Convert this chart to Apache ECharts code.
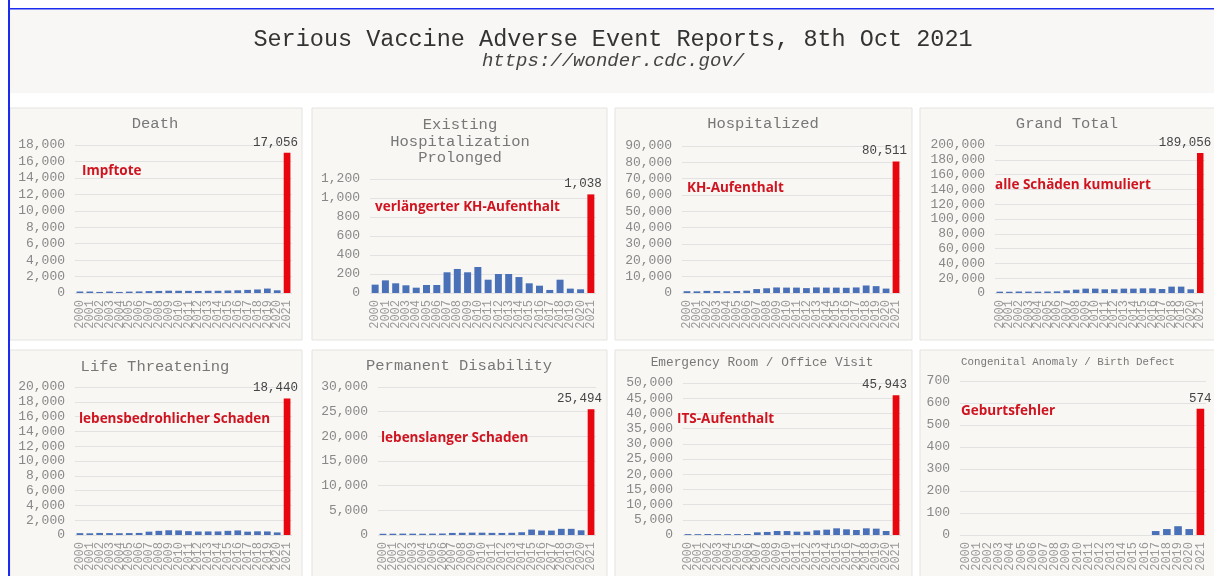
<!DOCTYPE html>
<html>
<head>
<meta charset="utf-8">
<script src="https://cdn.jsdelivr.net/npm/echarts@6/dist/echarts.min.js"></script>
<style>
  html, body { margin: 0; padding: 0; background: #fff; }
  #chart { width: 1214px; height: 576px; }
</style>
</head>
<body>
<div id="chart"></div>
<script>
const years = ['2000', '2001', '2002', '2003', '2004', '2005', '2006', '2007', '2008', '2009', '2010',
  '2011', '2012', '2013', '2014', '2015', '2016', '2017', '2018', '2019', '2020', '2021']

const death = [180, 180, 130, 180, 130, 170, 190, 230, 250, 280, 270, 260, 250, 270, 270, 300, 330, 380, 430, 540, 330, 17056]
const prolonged = [88, 133, 102, 81, 56, 84, 84, 218, 253, 218, 274, 140, 200, 200, 168, 102, 77, 32, 140, 46, 39, 1038]
const hospitalized = [1100, 1000, 1300, 1200, 1100, 1200, 1400, 2400, 2900, 3400, 3300, 3300, 3000, 3400, 3300, 3300, 3200, 3400, 4600, 4200, 2700, 80511]
const grandTotal = [1800, 1700, 2000, 1900, 1800, 2000, 2200, 3600, 4500, 5900, 5900, 5000, 5000, 5900, 5900, 6300, 6300, 5400, 8600, 8600, 5000, 189056]
const lifeThreat = [250, 230, 280, 260, 240, 260, 280, 450, 560, 640, 620, 520, 470, 480, 480, 560, 620, 450, 500, 480, 350, 18440]
const disability = [250, 260, 280, 270, 260, 280, 300, 420, 450, 480, 470, 430, 420, 450, 560, 1100, 900, 900, 1250, 1250, 950, 25494]
const emergency = [300, 280, 320, 300, 290, 310, 330, 880, 1000, 1320, 1300, 1100, 1100, 1540, 1760, 2200, 1870, 1650, 2200, 2090, 1320, 45943]
const birthDefect = [0, 0, 0, 0, 0, 0, 0, 0, 0, 0, 0, 0, 0, 0, 0, 0, 0, 18, 27, 40, 27, 574]

const blue = '#4a70b8'
const red = '#e8070f'
const noteRed = '#cf1420'
const mono = '"Liberation Mono", "DejaVu Sans Mono", monospace'

const panels = [
  { box: [10, 108, 292, 232], titles: ['Death'], tx: 155, ty: 124, ts: 15.5,
    note: 'Impftote', nx: 82, ny: 171,
    grid: { left: 75, top: 145, width: 217, height: 148 }, max: 18000, interval: 2000, data: death },
  { box: [312, 108, 295, 232], titles: ['Existing', 'Hospitalization', 'Prolonged'], tx: 460, ty: 125, ts: 15.5,
    note: 'verlängerter KH-Aufenthalt', nx: 375, ny: 207,
    grid: { left: 370, top: 179, width: 226, height: 114 }, max: 1200, interval: 200, data: prolonged },
  { box: [615, 108, 297, 232], titles: ['Hospitalized'], tx: 763, ty: 124, ts: 15.5,
    note: 'KH-Aufenthalt', nx: 687, ny: 188,
    grid: { left: 682, top: 146, width: 219, height: 147 }, max: 90000, interval: 10000, data: hospitalized },
  { box: [920, 108, 300, 232], titles: ['Grand Total'], tx: 1067, ty: 124, ts: 15.5,
    note: 'alle Schäden kumuliert', nx: 995, ny: 185,
    grid: { left: 995, top: 145, width: 210, height: 148 }, max: 200000, interval: 20000, data: grandTotal },
  { box: [10, 350, 292, 240], titles: ['Life Threatening'], tx: 155, ty: 367, ts: 15.5,
    note: 'lebensbedrohlicher Schaden', nx: 79, ny: 419,
    grid: { left: 75, top: 387, width: 217, height: 148 }, max: 20000, interval: 2000, data: lifeThreat },
  { box: [312, 350, 295, 240], titles: ['Permanent Disability'], tx: 459, ty: 366, ts: 15.5,
    note: 'lebenslanger Schaden', nx: 381, ny: 438,
    grid: { left: 378, top: 387, width: 218, height: 148 }, max: 30000, interval: 5000, data: disability },
  { box: [615, 350, 297, 240], titles: ['Emergency Room / Office Visit'], tx: 762, ty: 363, ts: 12.8,
    note: 'ITS-Aufenthalt', nx: 677, ny: 419,
    grid: { left: 683, top: 383, width: 218, height: 152 }, max: 50000, interval: 5000, data: emergency },
  { box: [920, 350, 300, 240], titles: ['Congenital Anomaly / Birth Defect'], tx: 1068, ty: 362, ts: 10.8,
    note: 'Geburtsfehler', nx: 961, ny: 411,
    grid: { left: 960, top: 381, width: 246, height: 154 }, max: 700, interval: 100, data: birthDefect }
]

const fmt = v => Number(v).toLocaleString('en-US')

const graphic = [
  { type: 'rect', shape: { x: 10, y: 9, width: 1204, height: 84 }, style: { fill: '#f8f7f5' }, z: 0 },
  { type: 'rect', shape: { x: 8, y: 0, width: 2, height: 576 }, style: { fill: '#1a2cf0' }, z: 5 },
  { type: 'rect', shape: { x: 8, y: 8, width: 1206, height: 1.5 }, style: { fill: '#1a2cf0' }, z: 5 },
  { type: 'text', x: 613, y: 40, z: 5,
    style: { text: 'Serious Vaccine Adverse Event Reports, 8th Oct 2021', font: '23.5px ' + mono,
      fill: '#333', textAlign: 'center', textVerticalAlign: 'middle' } },
  { type: 'text', x: 613, y: 61, z: 5,
    style: { text: 'https://wonder.cdc.gov/', font: 'italic 19px ' + mono,
      fill: '#444', textAlign: 'center', textVerticalAlign: 'middle' } }
]

panels.forEach(p => {
  graphic.push({ type: 'rect', z: 0,
    shape: { x: p.box[0], y: p.box[1], width: p.box[2], height: p.box[3] },
    style: { fill: '#f8f7f4', stroke: '#e4e3e0', lineWidth: 1 } })
  p.titles.forEach((t, i) => {
    graphic.push({ type: 'text', x: p.tx, y: p.ty + i * 16.5, z: 5,
      style: { text: t, font: p.ts + 'px ' + mono, fill: '#777',
        textAlign: 'center', textVerticalAlign: 'middle' } })
  })
  graphic.push({ type: 'text', x: p.nx, y: p.ny, z: 5,
    style: { text: p.note, font: 'bold 13.5px "Open Sans", "Noto Sans", sans-serif', fill: noteRed,
      textAlign: 'left', textVerticalAlign: 'middle' } })
})

const last = years.length - 1

const option = {
  backgroundColor: '#fff',
  animation: false,
  graphic: graphic,
  grid: panels.map(p => Object.assign({ containLabel: false }, p.grid)),
  xAxis: panels.map((p, i) => ({
    type: 'category',
    gridIndex: i,
    data: years,
    axisLine: { show: false },
    axisTick: { show: false },
    axisLabel: {
      interval: 0,
      rotate: 90,
      margin: 7,
      fontFamily: mono,
      fontSize: 12,
      color: '#999'
    }
  })),
  yAxis: panels.map((p, i) => ({
    type: 'value',
    gridIndex: i,
    min: 0,
    max: p.max,
    interval: p.interval,
    axisLine: { show: false },
    axisTick: { show: false },
    splitLine: { lineStyle: { color: '#e2e2e2', width: 1 } },
    axisLabel: {
      margin: 10,
      fontFamily: mono,
      fontSize: 13,
      color: '#888',
      formatter: fmt
    }
  })),
  series: panels.map((p, i) => ({
    type: 'bar',
    xAxisIndex: i,
    yAxisIndex: i,
    barCategoryGap: '32%',
    itemStyle: { color: blue },
    data: p.data.map((v, j) => j === last ? {
      value: v,
      itemStyle: { color: red },
      label: {
        show: true,
        position: 'top',
        align: 'right',
        offset: [11, 0],
        distance: 4,
        fontFamily: mono,
        fontSize: 12.5,
        color: '#444',
        formatter: d => fmt(d.value)
      }
    } : v)
  }))
}

const myChart = echarts.init(document.getElementById('chart'))
myChart.setOption(option)
</script>
</body>
</html>
